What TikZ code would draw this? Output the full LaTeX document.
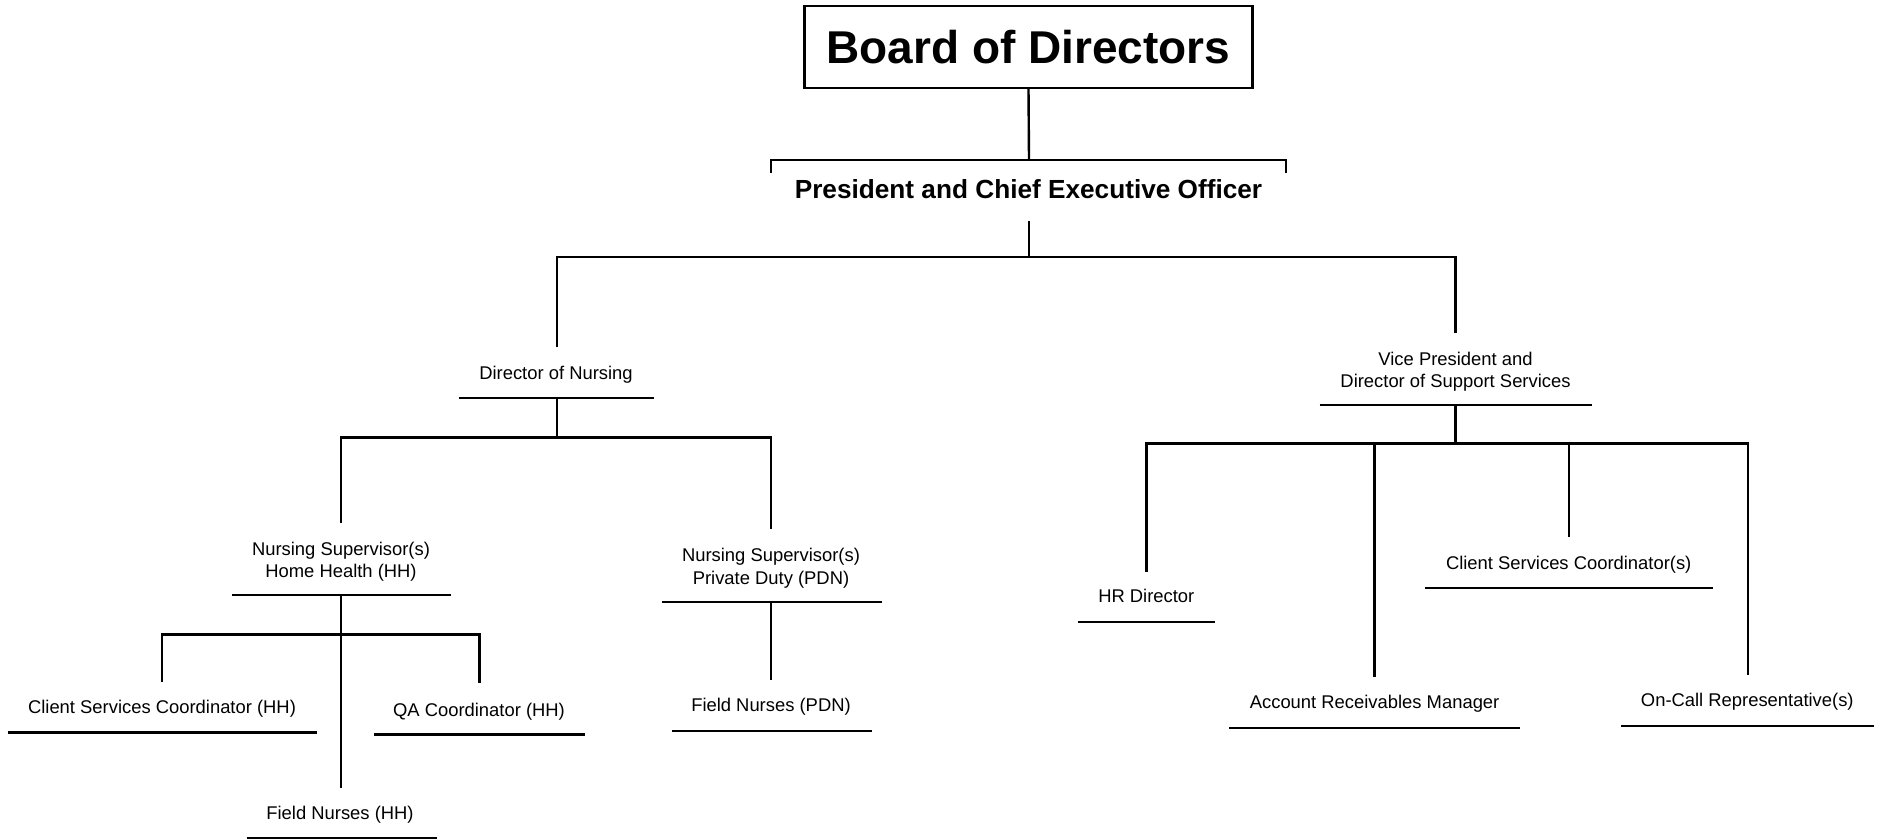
\documentclass[tikz,border=0pt]{standalone}
\usepackage{fontspec}
\setmainfont{Liberation Sans}
\begin{document}
\begin{tikzpicture}[x=1pt,y=-1pt,
  conn/.style={line width=2.4pt, line join=miter},
  ul/.style={line width=2.4pt},
  lbl/.style={inner sep=0pt, anchor=base, align=center, font=\fontsize{18.4}{22.2}\selectfont},
  boardbox/.style={draw, line width=2.4pt, minimum width=448pt, minimum height=82pt, inner sep=0pt, font=\bfseries\fontsize{46}{50}\selectfont},
  preslbl/.style={inner sep=0pt, anchor=base, font=\bfseries\fontsize{26.2}{30}\selectfont}]
\useasboundingbox (0,0) rectangle (1877,839);

% Board and President
\node[boardbox] (board) at (1028.5,47) {Board of Directors};
\node[preslbl] (pres) at (1028.5,198) {President and Chief Executive Officer};
\coordinate (pj) at (1029,160);
\coordinate (brL) at (771,173);
\coordinate (brR) at (1286,173);
\draw[conn] (board.south) -- (pj);
\draw[conn] (brL) -- ++(0,-13) -| (brR);
\coordinate (presbot) at (1029,221);
\coordinate (j1) at (1029,257);
\coordinate (donTop) at (557,347);
\coordinate (vpTop) at (1455.5,333);
\draw[conn] (presbot) -- (j1);
\draw[conn] (donTop) |- (j1) -| (vpTop);

% Director of Nursing
\node[lbl] (don) at (556,379.3) {Director of Nursing};
\coordinate (donL) at (459,397.7); \coordinate (donR) at (654,397.7);
\draw[ul] (donL) -- (donR);
\coordinate (donMid) at (557,397.7);
\coordinate (jD) at (557,437.3);
\coordinate (nshTop) at (341,522.7);
\coordinate (nspTop) at (771,529.3);
\draw[conn] (donMid) -- (jD);
\draw[conn] (nshTop) |- (jD) -| (nspTop);

% Nursing Supervisor HH
\node[lbl] (nsh) at (341,577.3) {Nursing Supervisor(s)\\Home Health (HH)};
\coordinate (nshL) at (231.8,595); \coordinate (nshR) at (450.7,595);
\draw[ul] (nshL) -- (nshR);
\coordinate (nshMid) at (341,595);
\coordinate (fnhTop) at (341,788.3);
\coordinate (jH) at (341,634.3);
\coordinate (cshTop) at (162,681.7);
\coordinate (qaTop) at (479.5,683.3);
\draw[conn] (nshMid) -- (fnhTop);
\draw[conn] (cshTop) |- (jH) -| (qaTop);

\node[lbl] (csh) at (162,713.3) {Client Services Coordinator (HH)};
\draw[ul] (7.6,732.3) coordinate (cshL) -- (317,732.3) coordinate (cshR);
\node[lbl] (qa) at (479,716) {QA Coordinator (HH)};
\draw[ul] (373.8,734.3) coordinate (qaL) -- (584.5,734.3) coordinate (qaR);
\node[lbl] (fnh) at (340,819.3) {Field Nurses (HH)};
\draw[ul] (246.5,837.7) coordinate (fnhL) -- (437.2,837.7) coordinate (fnhR);

% Nursing Supervisor PDN
\node[lbl] (nsp) at (771,584) {Nursing Supervisor(s)\\Private Duty (PDN)};
\draw[ul] (662,601.7) coordinate (nspL) -- (881.5,601.7) coordinate (nspR);
\coordinate (nspMid) at (771,601.7);
\coordinate (fnpTop) at (771,680);
\draw[conn] (nspMid) -- (fnpTop);
\node[lbl] (fnp) at (771,711.7) {Field Nurses (PDN)};
\draw[ul] (672,730.7) coordinate (fnpL) -- (872,730.7) coordinate (fnpR);

% Vice President
\node[lbl] (vp) at (1455.5,387.7) {Vice President and\\Director of Support Services};
\draw[ul] (1319.5,405) coordinate (vpL) -- (1591.7,405) coordinate (vpR);
\coordinate (vpMid) at (1455.6,405);
\coordinate (jV) at (1455.6,443.3);
\coordinate (hrTop) at (1146.5,571.7);
\coordinate (arTop) at (1374.4,676.7);
\coordinate (cscTop) at (1569,536.7);
\coordinate (ocTop) at (1747.8,675);
\draw[conn] (vpMid) -- (jV);
\draw[conn] (hrTop) |- (jV) -| (ocTop);
\draw[conn] (arTop) -- (arTop |- jV);
\draw[conn] (cscTop) -- (cscTop |- jV);

\node[lbl] (hr) at (1146.3,602.7) {HR Director};
\draw[ul] (1078,622) coordinate (hrL) -- (1215,622) coordinate (hrR);
\node[lbl] (csc) at (1568.7,569.3) {Client Services Coordinator(s)};
\draw[ul] (1425,587.7) coordinate (cscL) -- (1713,587.7) coordinate (cscR);
\node[lbl] (ar) at (1374.6,708.3) {Account Receivables Manager};
\draw[ul] (1229.3,727.7) coordinate (arL) -- (1520,727.7) coordinate (arR);
\node[lbl] (oc) at (1747.3,706.7) {On-Call Representative(s)};
\draw[ul] (1621,725.7) coordinate (ocL) -- (1874,725.7) coordinate (ocR);
\end{tikzpicture}
\end{document}
